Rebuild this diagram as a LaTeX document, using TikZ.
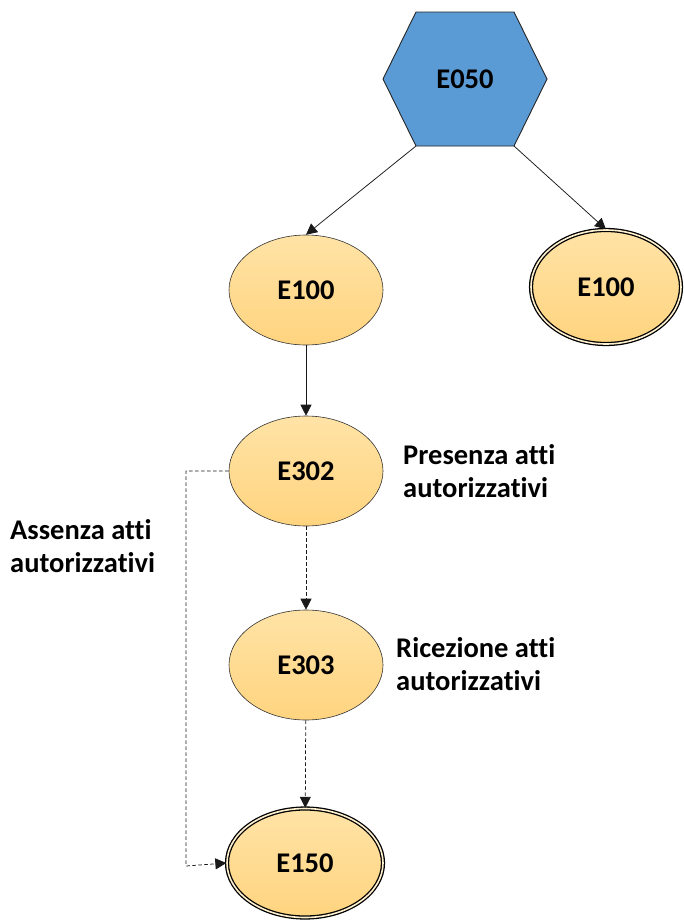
\documentclass[tikz,border=0pt]{standalone}
\usepackage{fontspec}
\setmainfont[Ligatures=NoCommon]{Carlito}
\usetikzlibrary{shapes.geometric,arrows.meta}
\definecolor{hexblue}{HTML}{5B9BD5}
\definecolor{ortop}{HTML}{FFE3A6}
\definecolor{orbot}{HTML}{FFD47F}
\definecolor{gapcol}{HTML}{FFF1D0}
\tikzset{
  txt/.style={font=\bfseries\fontsize{28.5}{33}\selectfont},
  state/.style={ellipse, draw=black!80, line width=0.6pt, top color=ortop, bottom color=orbot, txt, minimum width=154pt, minimum height=110pt, inner sep=0pt},
  final/.style={state, draw=black, line width=1.3pt, double=gapcol, double distance=1.6pt},
  hexstyle/.style={fill=hexblue, draw=black!85, line width=0.9pt},
  conn/.style={draw=black!90, line width=0.75pt, -{Triangle[length=11pt,width=11pt]}},
  dconn/.style={conn, dash pattern=on 3.5pt off 2.5pt},
  lbl/.style={txt, align=left, inner sep=0pt, anchor=west}
}
\begin{document}
\begin{tikzpicture}[x=1pt,y=-1pt]
\useasboundingbox (0,0) rectangle (684,921);
% hexagon
\path[hexstyle] (383,79) -- (416,12) -- (514,12) -- (547,79) -- (514,146) -- (416,146) -- cycle;
\node[txt] (e050) at (465,79) {E050};
\coordinate (hexbl) at (416,146);
\coordinate (hexbr) at (514,146);
% states
\node[state] (e100a) at (306,290) {E100};
\node[final, minimum width=150pt, minimum height=114pt] (e100b) at (606,287) {E100};
\node[state] (e302) at (306,471) {E302};
\node[state] (e303) at (306,665) {E303};
\node[final, minimum width=156pt, minimum height=109pt] (e150) at (305,863) {E150};
\coordinate (corner1) at (186,471);
\coordinate (corner2) at (186,866);
% connectors
\draw[conn] (hexbl) -- (e100a.north);
\draw[conn] (hexbr) -- (e100b.north);
\draw[conn] (e100a) -- (e302);
\draw[dconn] (e302) -- (e303);
\draw[dconn] (e303) -- (e150);
\draw[dconn] (e302.west) -- (corner1) -- (corner2) -- (e150.west);
% labels
\node[lbl] (lp) at (403,471) {Presenza atti\\autorizzativi};
\node[lbl] (lr) at (396,664) {Ricezione atti\\autorizzativi};
\node[lbl] (la) at (10,546) {Assenza atti\\autorizzativi};
\end{tikzpicture}
\end{document}
